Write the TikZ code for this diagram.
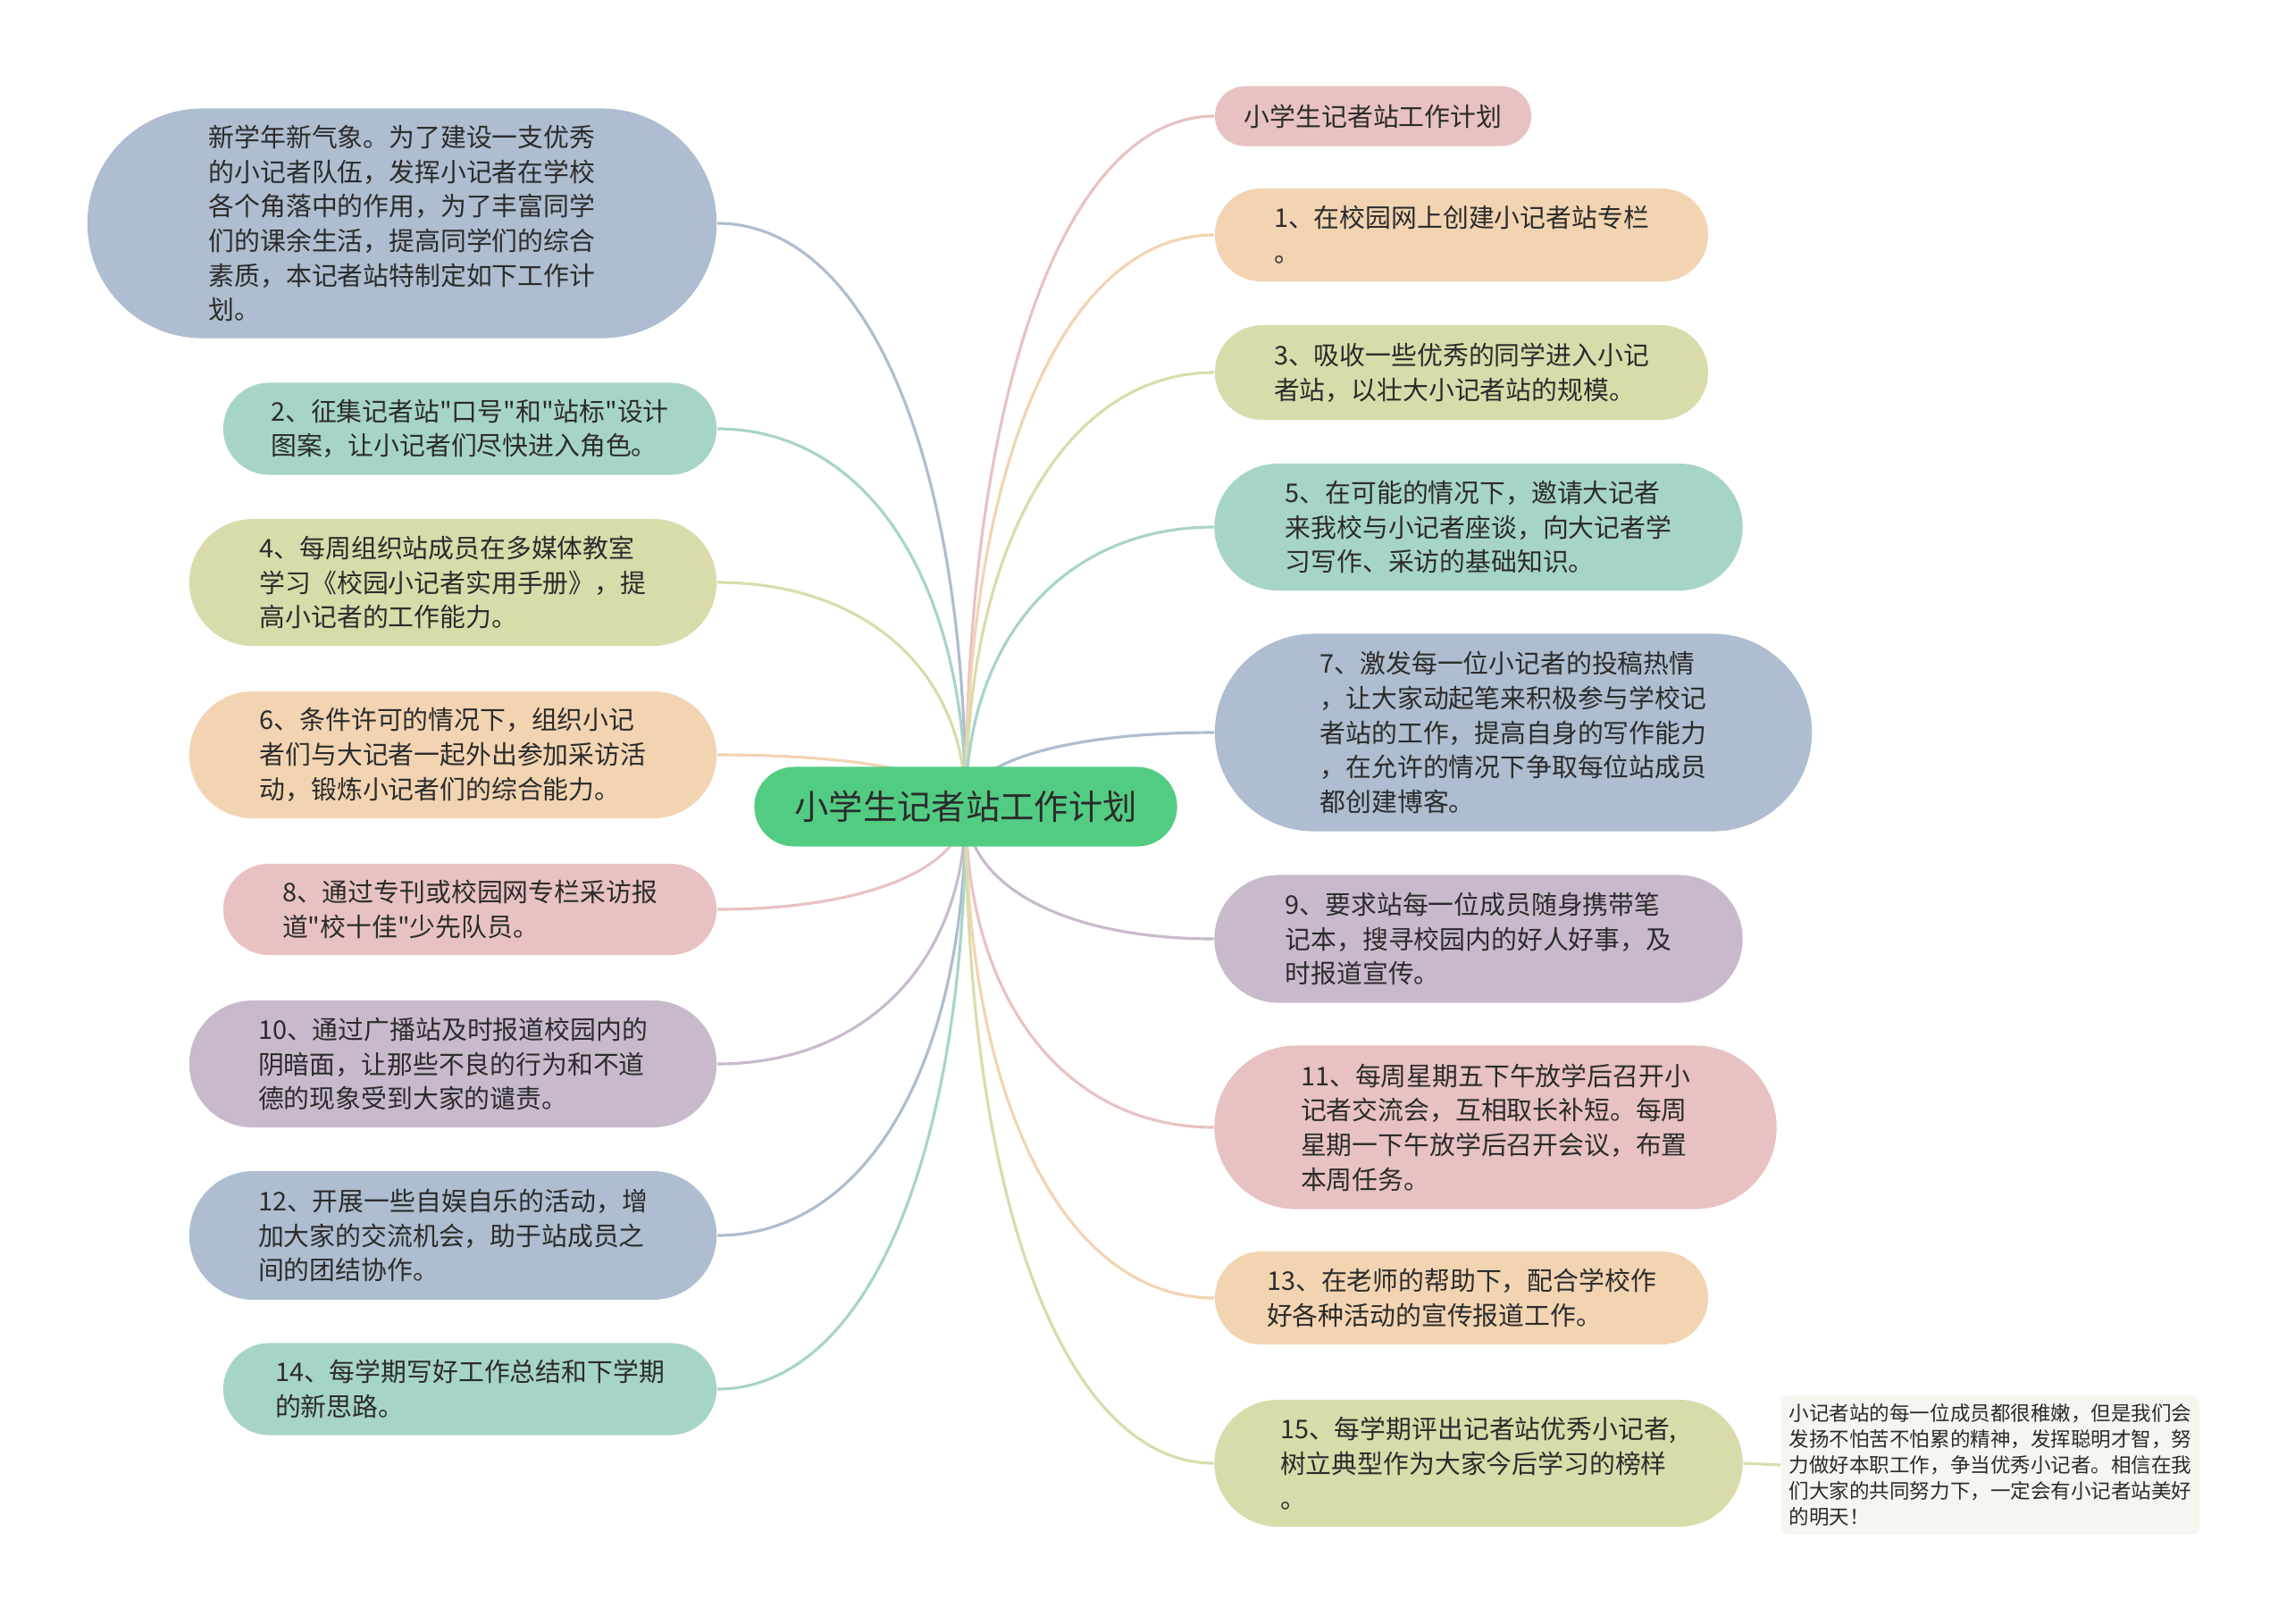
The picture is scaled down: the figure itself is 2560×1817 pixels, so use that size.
\documentclass[tikz,border=0pt]{standalone}
\usepackage{fontspec}
\setmainfont{Noto Sans CJK SC}[Ligatures=TeXOff]
\usetikzlibrary{shapes.misc,calc,backgrounds}
\definecolor{ink}{HTML}{2B2B2B}
\definecolor{grn}{HTML}{53CC83}
\definecolor{blu}{HTML}{AEBDCF}
\definecolor{tea}{HTML}{A7D4C8}
\definecolor{oli}{HTML}{D9DCAA}
\definecolor{pch}{HTML}{F2D4B2}
\definecolor{pnk}{HTML}{E8C2C3}
\definecolor{prp}{HTML}{C8BACC}
\definecolor{pap}{HTML}{F5F6F0}
\begin{document}
\begin{tikzpicture}[x=0.01cm, y=-0.01cm,
	leaf/.style={rounded rectangle, align=left, text=ink, font=\fontsize{8.2}{11}\selectfont},
	link/.style={line width=0.9pt}]
	\tikzstyle{every node}+=[inner sep=0pt]
	\useasboundingbox (0,0) rectangle (2560,1817);
	% centre
	\node [rounded rectangle, fill=grn, text=ink, minimum width=4.73cm, minimum height=0.89cm, font=\fontsize{10.9}{13}\selectfont] (root) at (1081,903) {小学生记者站工作计划};
	% left side
	\node [leaf, fill=blu, minimum width=7.04cm, minimum height=2.57cm] (intro) at (450,250) {新学年新气象。为了建设一支优秀\\的小记者队伍，发挥小记者在学校\\各个角落中的作用，为了丰富同学\\们的课余生活，提高同学们的综合\\素质，本记者站特制定如下工作计\\划。};
	\node [leaf, fill=tea, minimum width=5.52cm, minimum height=1.03cm] (n2) at (526,480) {2、征集记者站"口号"和"站标"设计\\图案，让小记者们尽快进入角色。};
	\node [leaf, fill=oli, minimum width=5.9cm, minimum height=1.42cm] (n4) at (507,652) {4、每周组织站成员在多媒体教室\\学习《校园小记者实用手册》，提\\高小记者的工作能力。};
	\node [leaf, fill=pch, minimum width=5.9cm, minimum height=1.42cm] (n6) at (507,845) {6、条件许可的情况下，组织小记\\者们与大记者一起外出参加采访活\\动，锻炼小记者们的综合能力。};
	\node [leaf, fill=pnk, minimum width=5.52cm, minimum height=1.02cm] (n8) at (526,1018) {8、通过专刊或校园网专栏采访报\\道"校十佳"少先队员。};
	\node [leaf, fill=prp, minimum width=5.9cm, minimum height=1.42cm] (n10) at (507,1191) {10、通过广播站及时报道校园内的\\阴暗面，让那些不良的行为和不道\\德的现象受到大家的谴责。};
	\node [leaf, fill=blu, minimum width=5.9cm, minimum height=1.44cm] (n12) at (507,1383) {12、开展一些自娱自乐的活动，增\\加大家的交流机会，助于站成员之\\间的团结协作。};
	\node [leaf, fill=tea, minimum width=5.52cm, minimum height=1.03cm] (n14) at (526,1555) {14、每学期写好工作总结和下学期\\的新思路。};
	% right side
	\node [leaf, fill=pnk, minimum width=3.54cm, minimum height=0.67cm] (title) at (1537,130) {小学生记者站工作计划};
	\node [leaf, fill=pch, minimum width=5.52cm, minimum height=1.04cm] (n1) at (1636,263) {1、在校园网上创建小记者站专栏\\。};
	\node [leaf, fill=oli, minimum width=5.52cm, minimum height=1.06cm] (n3) at (1636,417) {3、吸收一些优秀的同学进入小记\\者站，以壮大小记者站的规模。};
	\node [leaf, fill=tea, minimum width=5.91cm, minimum height=1.42cm] (n5) at (1655,590) {5、在可能的情况下，邀请大记者\\来我校与小记者座谈，向大记者学\\习写作、采访的基础知识。};
	\node [leaf, fill=blu, minimum width=6.68cm, minimum height=2.21cm] (n7) at (1694,820) {7、激发每一位小记者的投稿热情\\，让大家动起笔来积极参与学校记\\者站的工作，提高自身的写作能力\\，在允许的情况下争取每位站成员\\都创建博客。};
	\node [leaf, fill=prp, minimum width=5.91cm, minimum height=1.43cm] (n9) at (1655,1051) {9、要求站每一位成员随身携带笔\\记本，搜寻校园内的好人好事，及\\时报道宣传。};
	\node [leaf, fill=pnk, minimum width=6.29cm, minimum height=1.83cm] (n11) at (1674,1262) {11、每周星期五下午放学后召开小\\记者交流会，互相取长补短。每周\\星期一下午放学后召开会议，布置\\本周任务。};
	\node [leaf, fill=pch, minimum width=5.52cm, minimum height=1.04cm] (n13) at (1636,1453) {13、在老师的帮助下，配合学校作\\好各种活动的宣传报道工作。};
	\node [leaf, fill=oli, minimum width=5.91cm, minimum height=1.42cm] (n15) at (1655,1638) {15、每学期评出记者站优秀小记者,\\树立典型作为大家今后学习的榜样\\。};
	% note
	\node [fill=pap, rounded corners=0.08cm, align=left, text=ink, minimum width=4.68cm, minimum height=1.56cm, font=\fontsize{6.4}{8.2}\selectfont] (note) at (2228,1640) {小记者站的每一位成员都很稚嫩，但是我们会\\发扬不怕苦不怕累的精神，发挥聪明才智，努\\力做好本职工作，争当优秀小记者。相信在我\\们大家的共同努力下，一定会有小记者站美好\\的明天！};
	% connectors
	\begin{scope}[on background layer]
	\foreach \n/\a/\c in {intro/east/blu, n2/east/tea, n4/east/oli, n6/east/pch, n8/east/pnk, n10/east/prp, n12/east/blu, n14/east/tea, title/west/pnk, n1/west/pch, n3/west/oli, n5/west/tea, n7/west/blu, n9/west/prp, n11/west/pnk, n13/west/pch, n15/west/oli}
		\draw [link, \c] (root.center) .. controls ($(root.center)!0.6!(root.center |- \n.\a)$) and ($(\n.\a)!0.6!(root.center |- \n.\a)$) .. (\n.\a);
	\draw [link, oli] (n15.east) -- (note.west);
	\end{scope}
\end{tikzpicture}
\end{document}
